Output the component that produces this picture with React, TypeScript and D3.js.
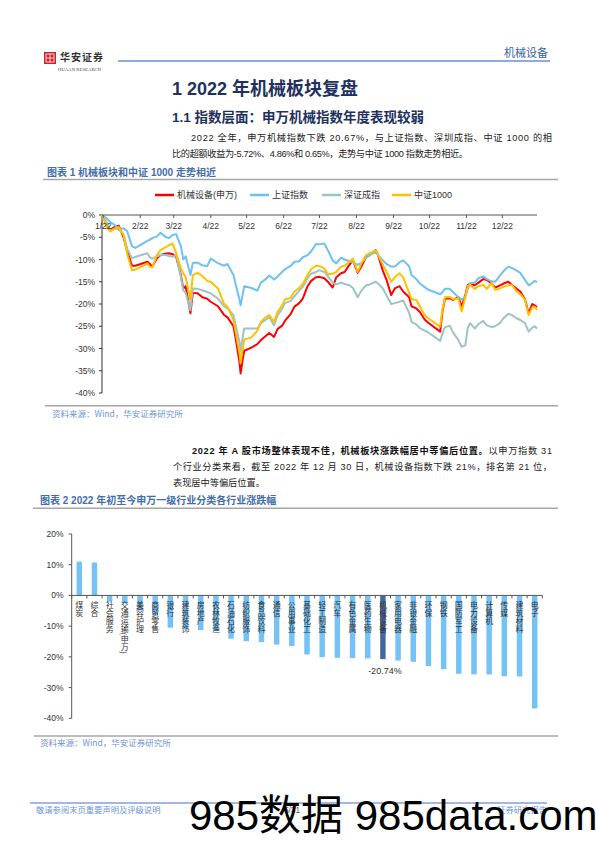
import React from "react";
import * as d3 from "d3";

// ---------- Chart 1: index performance 2022 (cumulative %, base 2021-12-31) ----------
const dates: string[] = [
  "2021-12-31", "2022-01-04", "2022-01-07", "2022-01-11", "2022-01-14", "2022-01-18", "2022-01-21", "2022-01-25", "2022-01-28",
  "2022-02-07", "2022-02-09", "2022-02-11", "2022-02-15", "2022-02-18", "2022-02-22", "2022-02-25", "2022-02-28",
  "2022-03-03", "2022-03-07", "2022-03-09", "2022-03-11", "2022-03-15", "2022-03-17", "2022-03-21", "2022-03-25", "2022-03-29",
  "2022-04-01", "2022-04-07", "2022-04-12", "2022-04-15", "2022-04-20", "2022-04-22", "2022-04-25", "2022-04-26", "2022-04-28", "2022-04-29",
  "2022-05-05", "2022-05-10", "2022-05-13", "2022-05-17", "2022-05-20", "2022-05-24", "2022-05-27", "2022-05-31",
  "2022-06-02", "2022-06-07", "2022-06-10", "2022-06-14", "2022-06-17", "2022-06-21", "2022-06-24", "2022-06-28",
  "2022-07-01", "2022-07-05", "2022-07-08", "2022-07-12", "2022-07-15", "2022-07-19", "2022-07-22", "2022-07-26", "2022-07-29",
  "2022-08-02", "2022-08-05", "2022-08-09", "2022-08-12", "2022-08-17", "2022-08-19", "2022-08-23", "2022-08-26", "2022-08-30",
  "2022-09-02", "2022-09-06", "2022-09-09", "2022-09-14", "2022-09-16", "2022-09-20", "2022-09-23", "2022-09-27", "2022-09-30",
  "2022-10-10", "2022-10-12", "2022-10-14", "2022-10-18", "2022-10-21", "2022-10-25", "2022-10-28", "2022-10-31",
  "2022-11-02", "2022-11-04", "2022-11-08", "2022-11-11", "2022-11-15", "2022-11-18", "2022-11-22", "2022-11-25", "2022-11-29",
  "2022-12-02", "2022-12-06", "2022-12-09", "2022-12-13", "2022-12-16", "2022-12-20", "2022-12-23", "2022-12-26", "2022-12-28", "2022-12-30",
];

const machinery: number[] = [
  0, -2.0, -3.4, -2.6, -2.4, -5.0, -7.9, -11.4, -11.4,
  -10.5, -11.0, -11.6, -9.7, -9.0, -8.7, -8.6, -8.8,
  -9.4, -13.5, -16.5, -16.0, -22.1, -17.5, -17.6, -18.5, -18.8,
  -19.5, -20.5, -22.4, -23.0, -25.0, -28.0, -33.0, -35.6, -32.0, -30.5,
  -29.8, -29.0, -28.1, -27.2, -26.5, -27.4, -25.6, -24.8,
  -23.8, -22.2, -20.6, -19.8, -18.8, -16.0, -14.8, -14.0,
  -13.9, -14.2, -15.0, -16.3, -14.0, -13.1, -12.8, -11.2, -10.2,
  -13.0, -11.6, -9.5, -9.0, -7.9, -9.0, -12.5, -14.5, -18.0,
  -16.5, -16.0, -17.2, -18.5, -20.5, -21.0, -21.8, -23.5, -24.2,
  -26.2, -21.5, -18.8, -18.7, -19.1, -18.4, -20.6, -18.0,
  -15.8, -15.4, -15.8, -15.2, -14.4, -14.6, -15.4, -16.3, -15.8,
  -15.4, -15.0, -15.7, -16.6, -17.2, -19.0, -22.1, -20.0, -20.3, -20.67,
];

const shanghai: number[] = [
  0, -0.8, -1.6, -2.3, -3.2, -3.0, -3.6, -7.0, -7.4,
  -5.8, -5.6, -5.2, -4.8, -4.0, -4.9, -5.2, -4.5,
  -4.3, -7.0, -10.0, -9.3, -13.5, -10.8, -10.7, -11.3, -11.5,
  -9.8, -10.8, -11.4, -11.0, -13.5, -15.8, -19.0, -20.3, -17.5, -16.0,
  -16.4, -17.0, -15.2, -14.4, -13.6, -14.5, -13.8, -12.7,
  -12.2, -11.4, -10.5, -10.4, -9.5, -9.0, -8.2, -6.5,
  -6.6, -6.4, -7.9, -10.2, -10.9, -9.6, -10.0, -10.4, -10.6,
  -11.2, -10.8, -9.6, -9.0, -8.3, -9.0, -10.2, -11.0, -11.6,
  -11.6, -10.6, -10.2, -11.5, -13.5, -14.4, -15.4, -16.2, -16.8,
  -17.8, -17.3, -16.6, -16.6, -17.4, -18.4, -19.0, -18.4,
  -16.6, -15.4, -15.2, -14.2, -13.8, -14.4, -14.9, -15.0, -13.6,
  -12.6, -11.6, -11.9, -12.5, -13.0, -14.6, -15.8, -15.3, -14.8, -15.1,
];

const shenzhen: number[] = [
  0, -1.8, -3.5, -3.0, -3.3, -4.3, -7.5, -9.7, -9.4,
  -8.6, -9.5, -9.8, -9.3, -9.0, -9.0, -9.2, -9.4,
  -9.0, -13.9, -16.9, -17.5, -21.4, -16.5, -16.6, -16.9, -17.3,
  -17.6, -18.8, -20.5, -21.0, -22.5, -25.0, -28.5, -30.5, -27.0, -25.5,
  -25.5, -25.5, -24.3, -23.5, -23.0, -24.8, -22.5, -21.0,
  -19.8, -19.3, -18.3, -17.0, -16.2, -14.2, -13.2, -12.8,
  -12.4, -12.8, -13.8, -15.2, -15.6, -15.2, -15.5, -15.8, -16.4,
  -18.5, -17.0, -15.8, -15.6, -15.0, -15.4, -16.5, -18.0, -20.0,
  -19.8, -19.5, -19.2, -22.0, -24.0, -24.6, -25.4, -26.0, -26.4,
  -28.3, -26.5, -25.2, -24.9, -26.5, -28.0, -29.6, -29.3,
  -25.5, -24.3, -25.5, -24.5, -23.8, -24.8, -25.2, -25.0, -24.3,
  -23.2, -22.2, -22.5, -23.2, -23.6, -24.3, -26.2, -25.3, -25.0, -25.5,
];

const csi1000: number[] = [
  0, -2.8, -3.7, -3.0, -2.7, -4.5, -8.6, -12.4, -12.3,
  -10.9, -11.6, -11.8, -9.0, -7.9, -7.3, -6.8, -6.4,
  -8.5, -12.0, -13.1, -14.0, -19.1, -13.5, -13.0, -13.7, -14.8,
  -15.0, -16.5, -19.9, -20.6, -23.5, -26.6, -31.0, -33.3, -29.6, -28.0,
  -27.5, -26.0, -24.0, -23.0, -22.5, -24.0, -21.7, -20.2,
  -19.0, -18.6, -17.2, -16.4, -15.5, -13.5, -12.2, -11.4,
  -11.5, -12.0, -13.3, -13.2, -12.8, -11.6, -11.4, -10.5, -9.8,
  -12.8, -10.9, -9.0, -8.6, -8.0, -8.9, -11.2, -12.7, -15.0,
  -14.0, -13.1, -14.0, -17.5, -18.9, -19.1, -20.5, -22.5, -23.2,
  -25.1, -21.0, -18.5, -18.4, -19.0, -18.7, -21.7, -18.5,
  -16.0, -15.7, -16.6, -16.0, -15.7, -16.6, -15.2, -16.8, -16.5,
  -16.1, -15.8, -15.7, -17.2, -17.8, -19.1, -22.5, -20.8, -20.6, -21.3,
];

const seriesNames: string[] = ["机械设备(申万)", "上证指数", "深证成指", "中证1000"];
const seriesColors: string[] = ["#FF0000", "#6DC1F3", "#9CC4C6", "#FFC000"];
const seriesValues: number[][] = [machinery, shanghai, shenzhen, csi1000];

const yTicks1: number[] = [0, -5, -10, -15, -20, -25, -30, -35, -40];
const monthLabels: string[] = ["1/22", "2/22", "3/22", "4/22", "5/22", "6/22", "7/22", "8/22", "9/22", "10/22", "11/22", "12/22"];

// ---------- Chart 2: SW level-1 industries 2022 change (%) ----------
const industries: string[] = [
  "煤炭", "综合", "社会服务", "交通运输(申万)", "美容护理", "商贸零售", "银行", "建筑装饰", "房地产", "农林牧渔",
  "石油石化", "纺织服饰", "食品饮料", "通信", "公用事业", "基础化工", "轻工制造", "汽车", "有色金属", "医药生物",
  "机械设备", "家用电器", "非银金融", "环保", "钢铁", "国防军工", "电力设备", "计算机", "传媒", "建筑材料", "电子",
];
const industryChange: number[] = [
  11.0, 10.7, -2.0, -2.6, -4.8, -6.4, -10.5, -10.8, -11.3, -11.6,
  -14.1, -14.9, -15.2, -16.0, -16.5, -19.2, -20.1, -20.3, -20.4, -20.5,
  -20.74, -21.2, -21.6, -23.0, -24.0, -25.5, -25.7, -25.7, -26.3, -26.4, -36.8,
];
const yTicks2: number[] = [20, 10, 0, -10, -20, -30, -40];
const highlight = "机械设备";

const SANS = "'Liberation Sans', Arial, 'Noto Sans CJK SC', sans-serif";
const CJK = "'Noto Sans CJK SC', 'Liberation Sans', sans-serif";

export default function App() {
  const parse = d3.timeParse("%Y-%m-%d");
  const parsed = dates.map((d) => parse(d) as Date);

  // chart 1 scales
  const x1 = d3.scaleTime().domain([parse("2021-12-31") as Date, parse("2022-12-30") as Date]).range([102, 537]);
  const y1 = d3.scaleLinear().domain([-40, 0]).range([393, 215]);
  const monthTicks = d3.timeMonth.range(parse("2022-01-01") as Date, parse("2022-12-31") as Date);
  const lineGen = d3
    .line<number>()
    .x((_, i) => x1(parsed[i]))
    .y((v) => y1(v));

  // chart 2 scales
  const x2 = d3.scaleBand<string>().domain(industries).range([71.7, 542.3]).paddingInner(0.64).paddingOuter(0.32);
  const y2 = d3.scaleLinear().domain([-40, 20]).range([718.3, 534]);
  const step2 = x2.step();

  const legendX = [155, 250, 322, 392];

  const navy = "#1E3160";
  const figBlue = "#456DAA";
  const srcBlue = "#7096D1";
  const grey = "#A6A6A6";

  return (
    <svg
      width={596}
      height={842}
      viewBox="0 0 596 842"
      style={{ position: "absolute", left: 0, top: 0, background: "#fff" }}
      fontFamily={SANS}
    >
      <rect x={0} y={0} width={596} height={842} fill="#fff" />

      {/* ---- header ---- */}
      <g>
        <rect x={44} y={52} width={12} height={12} fill="#D0202A" />
        <rect x={46} y={54} width={8} height={8} fill="none" stroke="#fff" strokeWidth={0.8} />
        <line x1={50} y1={53.5} x2={50} y2={62.5} stroke="#fff" strokeWidth={0.8} />
        <line x1={46} y1={58} x2={54} y2={58} stroke="#fff" strokeWidth={0.8} />
        <text x={60} y={61} fontFamily={CJK} fontSize={10} fontWeight={700} fill="#333" letterSpacing={1}>
          华安证券
        </text>
        <text x={58} y={70.5} fontFamily="'Liberation Serif', serif" fontSize={4.6} fill="#444" letterSpacing={0.1}>
          HUAAN RESEARCH
        </text>
        <line x1={118} y1={61} x2={550} y2={61} stroke="#8FAADC" strokeWidth={2} />
        <text x={548} y={57} textAnchor="end" fontFamily={CJK} fontSize={11} fill="#3563A8">
          机械设备
        </text>
      </g>

      {/* ---- titles & paragraph 1 ---- */}
      <text x={172} y={94.5} fontFamily={SANS} fontSize={18} fontWeight={700} fill={navy}>
        1 2022 年机械板块复盘
      </text>
      <text x={172} y={122} fontFamily={SANS} fontSize={13.5} fontWeight={700} fill={navy}>
        1.1 指数层面：申万机械指数年度表现较弱
      </text>
      <text x={191} y={141} fontSize={9.2} fill="#222" textLength={361} lengthAdjust="spacing">
        2022 全年，申万机械指数下跌 20.67%，与上证指数、深圳成指、中证 1000 的相
      </text>
      <text x={172} y={157} fontSize={9.2} fill="#222" textLength={296} lengthAdjust="spacing">
        比的超额收益为-5.72%、4.86%和 0.65%，走势与中证 1000 指数走势相近。
      </text>

      {/* ---- figure 1 title ---- */}
      <text x={47} y={175.5} fontSize={10} fontWeight={700} fill={figBlue}>
        图表 1 机械板块和中证 1000 走势相近
      </text>
      <line x1={43} y1={179.5} x2={558} y2={179.5} stroke={grey} strokeWidth={1.5} />

      {/* legend */}
      {seriesNames.map((n, i) => (
        <g key={n}>
          <line x1={legendX[i]} x2={legendX[i] + 19} y1={195} y2={195} stroke={seriesColors[i]} strokeWidth={2.5} />
          <text x={legendX[i] + 22} y={198.2} fontSize={9} fill="#333">
            {n}
          </text>
        </g>
      ))}

      {/* y axis chart 1 */}
      <line x1={102} x2={102} y1={215} y2={393} stroke="#333" strokeWidth={1} />
      {yTicks1.map((t) => (
        <g key={t}>
          <line x1={99} x2={102} y1={y1(t)} y2={y1(t)} stroke="#333" strokeWidth={1} />
          <text x={95} y={y1(t) + 3} textAnchor="end" fontSize={8.5} fill="#333">
            {t + "%"}
          </text>
        </g>
      ))}

      {/* lines */}
      {seriesValues.map((vals, i) => (
        <path
          key={seriesNames[i]}
          d={lineGen(vals) || ""}
          fill="none"
          stroke={seriesColors[i]}
          strokeWidth={2}
          strokeLinejoin="round"
        />
      ))}

      {/* x axis chart 1 (at 0%) */}
      <line x1={102} x2={537} y1={215} y2={215} stroke="#555" strokeWidth={1.2} />
      {monthTicks.map((d, i) => (
        <g key={i}>
          <line x1={x1(d)} x2={x1(d)} y1={215} y2={218} stroke="#555" strokeWidth={1} />
          <text x={x1(d)} y={228.5} textAnchor="middle" fontSize={8.5} fill="#333">
            {monthLabels[i]}
          </text>
        </g>
      ))}

      {/* source 1 */}
      <line x1={45} y1={405.7} x2={558} y2={405.7} stroke={grey} strokeWidth={1.5} />
      <text x={52} y={416.5} fontFamily={CJK} fontSize={8.5} fill={srcBlue}>
        资料来源：Wind，华安证券研究所
      </text>

      {/* ---- paragraph 2 ---- */}
      <text x={192} y={454} fontSize={9.2} fill="#222" textLength={360} lengthAdjust="spacing">
        <tspan fontWeight={700} fill="#111">2022 年 A 股市场整体表现不佳，机械板块涨跌幅居中等偏后位置。</tspan>
        <tspan>以申万指数 31</tspan>
      </text>
      <text x={173} y={469.5} fontSize={9.2} fill="#222" textLength={379} lengthAdjust="spacing">
        个行业分类来看，截至 2022 年 12 月 30 日，机械设备指数下跌 21%，排名第 21 位，
      </text>
      <text x={173} y={485.5} fontSize={9.2} fill="#222">
        表现居中等偏后位置。
      </text>

      {/* ---- figure 2 title ---- */}
      <text x={40} y={504} fontSize={10} fontWeight={700} fill={figBlue}>
        图表 2 2022 年初至今申万一级行业分类各行业涨跌幅
      </text>
      <line x1={33} y1={508.3} x2={558} y2={508.3} stroke={grey} strokeWidth={1.5} />

      {/* y axis chart 2 */}
      <line x1={71.7} x2={71.7} y1={534} y2={718.3} stroke="#555" strokeWidth={1} />
      {yTicks2.map((t) => (
        <g key={t}>
          <line x1={68.7} x2={71.7} y1={y2(t)} y2={y2(t)} stroke="#555" strokeWidth={1} />
          <text x={63.5} y={y2(t) + 3} textAnchor="end" fontSize={8.5} fill="#333">
            {t + "%"}
          </text>
        </g>
      ))}

      {/* bars */}
      {industries.map((c, i) => {
        const v = industryChange[i];
        const y0 = y2(0);
        const yv = y2(v);
        return (
          <rect
            key={c}
            x={x2(c)}
            y={Math.min(y0, yv)}
            width={x2.bandwidth()}
            height={Math.abs(yv - y0)}
            fill={c === highlight ? "#44679F" : "#75C2F6"}
          />
        );
      })}

      {/* zero axis chart 2 */}
      <line x1={71.7} x2={542.3} y1={y2(0)} y2={y2(0)} stroke="#555" strokeWidth={1} />
      {d3.range(industries.length + 1).map((i) => (
        <line
          key={i}
          x1={71.7 + i * step2}
          x2={71.7 + i * step2}
          y1={y2(0)}
          y2={y2(0) + 3}
          stroke="#555"
          strokeWidth={1}
        />
      ))}

      {/* category labels (vertical) */}
      {industries.map((c) => (
        <text
          key={c}
          x={(x2(c) as number) + x2.bandwidth() / 2}
          y={600.5}
          fontFamily={CJK}
          fontSize={8}
          fill="#333"
          style={{ writingMode: "vertical-rl" } as any}
        >
          {c}
        </text>
      ))}

      {/* data label for highlighted bar */}
      <text
        x={(x2(highlight) as number) + x2.bandwidth() / 2 + 2}
        y={y2(industryChange[industries.indexOf(highlight)]) + 14.5}
        textAnchor="middle"
        fontSize={9}
        fill="#333"
      >
        {industryChange[industries.indexOf(highlight)].toFixed(2) + "%"}
      </text>

      {/* source 2 */}
      <line x1={34} y1={736} x2={558} y2={736} stroke={grey} strokeWidth={1.5} />
      <text x={40} y={745.5} fontFamily={CJK} fontSize={8.5} fill={srcBlue}>
        资料来源：Wind，华安证券研究所
      </text>

      {/* ---- footer ---- */}
      <line x1={30} y1={803} x2={547} y2={803} stroke="#4472C4" strokeWidth={1.2} />
      <text x={36} y={813} fontFamily={CJK} fontSize={8.3} fill={srcBlue}>
        敬请参阅末页重要声明及评级说明
      </text>
      <text x={292} y={813} textAnchor="middle" fontSize={8.3} fill="#555">
        5/31
      </text>
      <text x={547} y={813} textAnchor="end" fontFamily={CJK} fontSize={8.3} fill={srcBlue}>
        证券研究报告
      </text>
      <text x={189} y={830} fontFamily={SANS} fontSize={42} fill="#000">
        985数据 985data.com
      </text>
    </svg>
  );
}
